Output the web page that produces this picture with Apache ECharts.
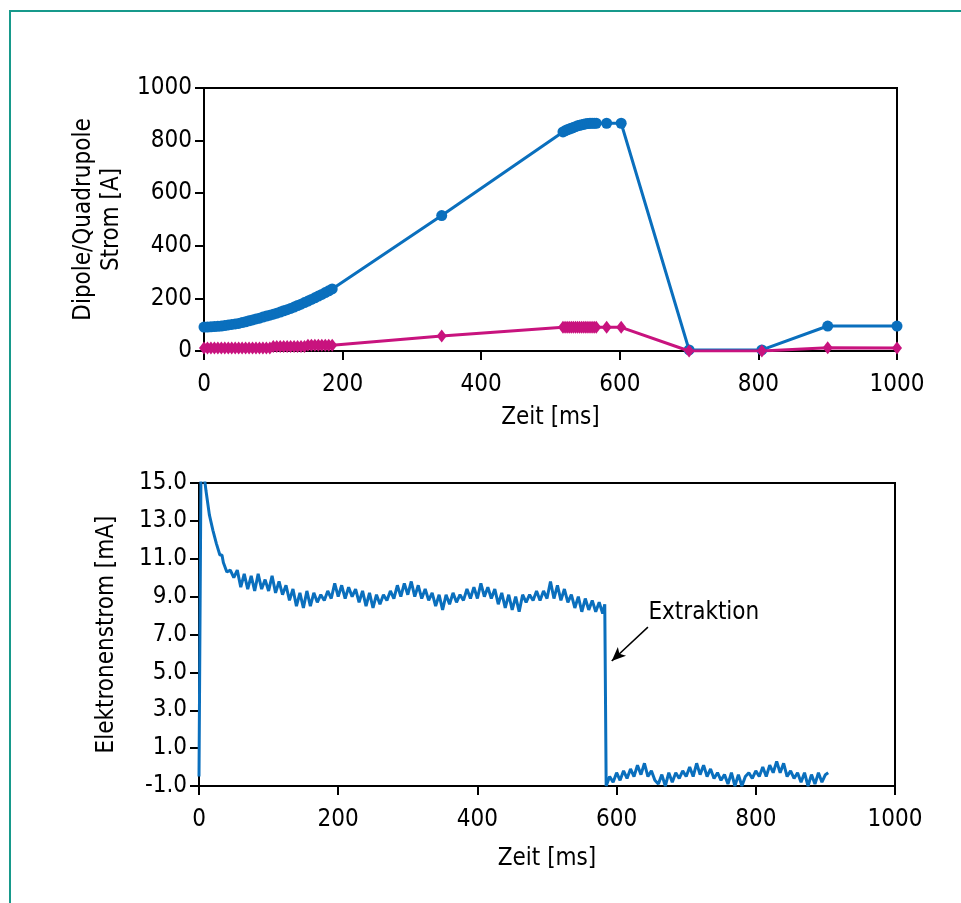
<!DOCTYPE html>
<html>
<head>
<meta charset="utf-8">
<script src="https://cdn.jsdelivr.net/npm/echarts@6/dist/echarts.min.js"></script>
<style>
html,body{margin:0;padding:0;background:#fff;}
#c{width:961px;height:903px;}
</style>
</head>
<body>
<div id="c"></div>
<script>
// ---------- DATA ----------
const timeTicks = [0, 200, 400, 600, 800, 1000];
const magnetTimes = [0,5,10,15,20,25,30,35,40,45,50,55,60,65,70,75,80,85,90,95,100,105,110,115,120,125,130,135,140,145,150,155,160,165,170,175,180,185,
  343,
  518,521,524,527,530,533,536,539,542,545,548,551,554,557,560,563,566,
  581,602,700,805,900,1000];
const dipoleCurrent = [91,91,92,93,94,95,97,99,101,103,105,108,111,115,118,122,125,129,133,136,140,144,148,153,157,162,167,173,178,184,190,196,202,209,215,222,229,236,
  515,
  833,837,841,844,847,850,853,856,858,860,862,864,865,866,866,866,866,
  866,866,4,4,95,95];
const quadrupoleCurrent = [11,11,11,11,11,11,11,11,11,11,11,11,11,11,11,11,11,11,11,11,17,17,17,17,17,17,17,17,17,17,22,22,22,22,22,22,22,22,
  57,
  90,90,90,90,90,90,90,90,90,90,90,90,90,90,90,90,90,
  90,90,0,0,12,11];

// electron current samples [time ms, current mA]
const electronSamples = [
  [0,-0.5],[3,16.5],[7,15.5],[10,14.6],[15,13.3],[20,12.5],[25,11.8],[30,11.2],[33,11.2],[35,10.8],[40,10.3],[45,10.4],
  [50,10.0],[55,10.4],[60,9.5],[65,10.2],[70,9.4],[75,10.1],[80,9.3],[85,10.2],[90,9.4],[95,9.9],
  [100,9.3],[105,10.1],[110,9.2],[115,9.8],[120,9.1],[125,9.6],[130,8.8],[135,9.4],[140,8.5],[145,9.2],
  [150,8.4],[155,9.3],[160,8.5],[165,9.2],[170,8.7],[175,9.1],[180,8.8],[185,9.3],[190,8.9],[195,9.7],
  [200,9.0],[205,9.6],[210,8.9],[215,9.5],[220,9.0],[225,9.4],[230,8.7],[235,9.3],[240,8.5],[245,9.2],
  [250,8.4],[255,9.1],[260,8.6],[265,9.1],[270,8.8],[275,9.3],[280,8.9],[285,9.6],[290,9.0],[295,9.7],
  [300,9.1],[305,9.8],[310,9.0],[315,9.6],[320,8.9],[325,9.4],[330,8.8],[335,9.2],[340,8.5],[345,9.1],
  [350,8.3],[355,9.1],[360,8.6],[365,9.2],[370,8.7],[375,9.1],[380,8.8],[385,9.4],[390,8.9],[395,9.5],
  [400,8.9],[405,9.7],[410,9.0],[415,9.5],[420,8.9],[425,9.4],[430,8.6],[435,9.2],[440,8.4],[445,9.1],
  [450,8.3],[455,9.0],[460,8.2],[465,9.1],[470,8.7],[475,9.1],[480,8.8],[485,9.3],[490,8.8],[495,9.3],
  [500,8.9],[505,9.8],[510,8.9],[515,9.6],[520,8.8],[525,9.4],[530,8.7],[535,9.1],[540,8.4],[545,9.0],
  [550,8.2],[555,8.9],[560,8.3],[565,8.8],[570,8.2],[575,8.7],[580,8.1],[583,8.6],
  [585,-1.0],[590,-0.5],[595,-0.8],[600,-0.3],[605,-0.7],[610,-0.2],[615,-0.6],[620,-0.1],[625,-0.5],
  [630,0.1],[635,-0.4],[640,0.2],[645,-0.5],[650,-0.2],[655,-0.7],[660,-0.9],[665,-0.4],[670,-1.0],[675,-0.3],
  [680,-0.8],[685,-0.3],[690,-0.6],[695,-0.2],[700,-0.5],[705,0.0],[710,-0.5],[715,0.2],[720,-0.4],[725,0.1],
  [730,-0.5],[735,-0.1],[740,-0.6],[745,-0.3],[750,-0.7],[755,-0.4],[760,-0.9],[765,-0.3],[770,-1.0],[775,-0.4],
  [780,-1.0],[785,-0.5],[790,-0.3],[795,-0.6],[800,-0.2],[805,-0.5],[810,0.0],[815,-0.5],[820,0.1],[825,-0.3],
  [830,0.3],[835,-0.3],[840,0.2],[845,-0.5],[850,-0.2],[855,-0.6],[860,-0.3],[865,-0.8],[870,-0.3],[875,-1.0],
  [880,-0.4],[885,-0.9],[890,-0.3],[895,-0.8],[900,-0.4],[904,-0.3]
];
const electronTickLabels = ['-1.0','1.0','3.0','5.0','7.0','9.0','11.0','13.0','15.0'];
const annotationText = 'Extraktion';
const annotationLabelAt = [645, 8.13];
const annotationArrowFrom = [645, 7.39];
const annotationArrowTo = [593, 5.6];

// ---------- CHART ----------
const FONT = "'Liberation Sans Narrow','DejaVu Sans Condensed','Arial Narrow',sans-serif";
const BLUE = '#0a6fbd';
const PINK = '#c8137e';
const Y_SHIFT = 1; // bottom axis shifted so ticks start at a multiple of the interval

const chart = echarts.init(document.getElementById('c'), null, {renderer: 'canvas'});

function axisCommon(isX) {
  return {
    axisLine: {show: true, onZero: false, lineStyle: {color: '#000', width: 2}},
    axisTick: {show: true, inside: false, length: 9, lineStyle: {color: '#000', width: 2}},
    splitLine: {show: false},
    axisLabel: {color: '#000', fontFamily: FONT, fontSize: 24, margin: isX ? 22 : 12,
      formatter: function (v) { return String(v); }},
    nameTextStyle: {color: '#000', fontFamily: FONT, fontSize: 24, lineHeight: 28},
    nameLocation: 'middle'
  };
}

const option = {
  animation: false,
  backgroundColor: '#fff',
  grid: [
    {left: 204, top: 88, width: 693, height: 263, show: true, borderColor: '#000', borderWidth: 2, backgroundColor: 'transparent'},
    {left: 199, top: 483, width: 696, height: 303, show: true, borderColor: '#000', borderWidth: 2, backgroundColor: 'transparent'}
  ],
  xAxis: [
    Object.assign(axisCommon(true), {gridIndex: 0, type: 'value', min: 0, max: 1000, interval: 200, name: 'Zeit [ms]', nameGap: 53}),
    Object.assign(axisCommon(true), {gridIndex: 1, type: 'value', min: 0, max: 1000, interval: 200, name: 'Zeit [ms]', nameGap: 59})
  ],
  yAxis: [
    Object.assign(axisCommon(false), {gridIndex: 0, type: 'value', min: 0, max: 1000, interval: 200, name: 'Dipole/Quadrupole\nStrom [A]', nameGap: 63}),
    Object.assign(axisCommon(false), {gridIndex: 1, type: 'value', min: -1 + Y_SHIFT, max: 15 + Y_SHIFT, interval: 2,
      name: 'Elektronenstrom [mA]', nameGap: 78,
      axisLabel: {color: '#000', fontFamily: FONT, fontSize: 24, margin: 12,
        formatter: function (v) { return electronTickLabels[Math.round((v - (-1 + Y_SHIFT)) / 2)]; }}})
  ],
  series: [
    {
      type: 'line', xAxisIndex: 0, yAxisIndex: 0, name: 'Dipole',
      data: magnetTimes.map((t, i) => [t, dipoleCurrent[i]]),
      symbol: 'circle', symbolSize: 11, showSymbol: true,
      lineStyle: {color: BLUE, width: 3}, itemStyle: {color: BLUE},
      z: 2
    },
    {
      type: 'line', xAxisIndex: 0, yAxisIndex: 0, name: 'Quadrupole',
      data: magnetTimes.map((t, i) => [t, quadrupoleCurrent[i]]),
      symbol: 'diamond', symbolSize: [10, 13], showSymbol: true,
      lineStyle: {color: PINK, width: 3}, itemStyle: {color: PINK},
      z: 3
    },
    {
      type: 'line', xAxisIndex: 1, yAxisIndex: 1, name: 'Elektronenstrom',
      data: electronSamples.map(p => [p[0], p[1] + Y_SHIFT]),
      symbol: 'none', clip: true,
      lineStyle: {color: BLUE, width: 3},
      markLine: {
        silent: true, animation: false,
        symbol: ['none', 'arrow'], symbolSize: [9, 14],
        lineStyle: {color: '#000', width: 1.5, type: 'solid'},
        label: {show: false},
        data: [[
          {coord: [annotationArrowFrom[0], annotationArrowFrom[1] + Y_SHIFT]},
          {coord: [annotationArrowTo[0], annotationArrowTo[1] + Y_SHIFT]}
        ]]
      },
      markPoint: {
        silent: true, animation: false,
        data: [{
          coord: [annotationLabelAt[0], annotationLabelAt[1] + Y_SHIFT],
          symbol: 'circle', symbolSize: 1,
          itemStyle: {color: 'rgba(0,0,0,0)'},
          label: {show: true, position: 'right', distance: 0, formatter: annotationText,
            color: '#000', fontFamily: FONT, fontSize: 24}
        }]
      }
    }
  ],
  graphic: [
    {type: 'line', shape: {x1: 9, y1: 11, x2: 961, y2: 11}, style: {stroke: '#17998b', lineWidth: 2}, silent: true},
    {type: 'line', shape: {x1: 10, y1: 10, x2: 10, y2: 903}, style: {stroke: '#17998b', lineWidth: 2}, silent: true}
  ]
};
chart.setOption(option);
</script>
</body>
</html>
